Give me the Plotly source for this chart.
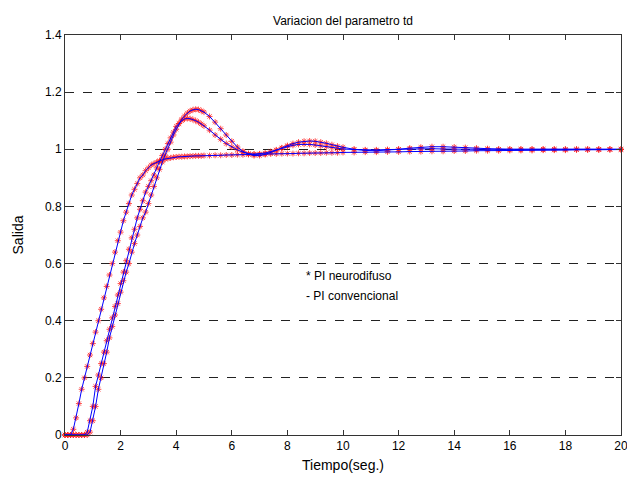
import plotly.graph_objects as go

# Time grid (seconds)
t_early = [0.0, 0.1, 0.2, 0.3, 0.4, 0.5, 0.6, 0.7, 0.8, 0.9,
           1.0, 1.1, 1.2, 1.3, 1.4, 1.5, 1.6, 1.7, 1.8, 1.9,
           2.0, 2.1, 2.2, 2.3, 2.4, 2.5, 2.6, 2.7, 2.8, 2.9,
           3.0, 3.1, 3.2, 3.3, 3.4, 3.5, 3.6, 3.7, 3.8, 3.9,
           4.0, 4.1, 4.2, 4.3, 4.4, 4.5, 4.6, 4.7, 4.8, 4.9]
t_mid = [5.0, 5.2, 5.4, 5.6, 5.8, 6.0, 6.2, 6.4, 6.6, 6.8,
         7.0, 7.2, 7.4, 7.6, 7.8, 8.0, 8.2, 8.4, 8.6, 8.8,
         9.0, 9.2, 9.4, 9.6, 9.8]
t_late = [10.0, 10.4, 10.8, 11.2, 11.6, 12.0, 12.4, 12.8, 13.2, 13.6,
          14.0, 14.4, 14.8, 15.2, 15.6, 16.0, 16.4, 16.8, 17.2, 17.6,
          18.0, 18.4, 18.8, 19.2, 19.6, 20.0]
tiempo = t_early + t_mid + t_late

# Response with small td (fast, no overshoot)
salida_td1 = [0, 0, 0, 0.02, 0.06, 0.11, 0.16, 0.2, 0.24, 0.28,
              0.32, 0.36, 0.40, 0.44, 0.48, 0.52, 0.56, 0.60, 0.64, 0.68,
              0.71, 0.75, 0.78, 0.81, 0.84, 0.86, 0.88, 0.90, 0.91, 0.925,
              0.935, 0.945, 0.95, 0.955, 0.96, 0.963, 0.966, 0.968, 0.97, 0.972,
              0.973, 0.974, 0.974, 0.975, 0.975, 0.976, 0.976, 0.977, 0.977, 0.977,
              0.978, 0.978, 0.979, 0.979, 0.98, 0.98, 0.981, 0.981, 0.982, 0.982,
              0.983, 0.983, 0.984, 0.984, 0.985, 0.985, 0.985, 0.986, 0.986, 0.987,
              0.987, 0.987, 0.988, 0.988, 0.988,
              0.989, 0.989, 0.99, 0.99, 0.991, 0.991, 0.992, 0.992, 0.993, 0.993,
              0.994, 0.994, 0.995, 0.995, 0.995, 0.996, 0.996, 0.996, 0.997, 0.997,
              0.997, 0.998, 0.998, 0.998, 0.999, 0.999]

# Response with medium td
salida_td2 = [0, 0, 0, 0, 0, 0, 0, 0, 0.01, 0.05,
              0.1, 0.17, 0.21, 0.25, 0.29, 0.33, 0.37, 0.41, 0.45, 0.49,
              0.53, 0.57, 0.61, 0.65, 0.69, 0.72, 0.76, 0.79, 0.82, 0.85,
              0.87, 0.89, 0.91, 0.935, 0.957, 0.978, 1.0, 1.02, 1.04, 1.06,
              1.08, 1.09, 1.10, 1.106, 1.108, 1.107, 1.104, 1.10, 1.095, 1.089,
              1.082, 1.067, 1.05, 1.035, 1.02, 1.008, 0.998, 0.99, 0.985, 0.983,
              0.984, 0.987, 0.992, 0.998, 1.004, 1.01, 1.014, 1.017, 1.018, 1.017,
              1.015, 1.012, 1.009, 1.006, 1.003,
              1.001, 0.999, 0.998, 0.998, 0.999, 1.0, 1.001, 1.002, 1.002, 1.001,
              1.0, 1.0, 1.0, 1.0, 1.0, 1.0, 1.0, 1.0, 1.0, 1.0,
              1.0, 1.0, 1.0, 1.0, 1.0, 1.0]

# Response with large td
salida_td3 = [0, 0, 0, 0, 0, 0, 0, 0, 0, 0.01,
              0.05, 0.1, 0.16, 0.2, 0.25, 0.29, 0.34, 0.38, 0.42, 0.46,
              0.5, 0.54, 0.57, 0.6, 0.64, 0.67, 0.7, 0.73, 0.76, 0.78,
              0.81, 0.84, 0.87, 0.9, 0.93, 0.955, 0.98, 1.0, 1.025, 1.05,
              1.07, 1.09, 1.105, 1.117, 1.127, 1.134, 1.138, 1.14, 1.139, 1.135,
              1.13, 1.115, 1.095, 1.072, 1.05, 1.028, 1.008, 0.993, 0.983, 0.978,
              0.978, 0.982, 0.988, 0.996, 1.005, 1.013, 1.02, 1.025, 1.028, 1.029,
              1.028, 1.025, 1.021, 1.016, 1.011,
              1.007, 1.0, 0.996, 0.995, 0.997, 1.0, 1.004, 1.007, 1.009, 1.009,
              1.008, 1.006, 1.004, 1.002, 1.0, 1.0, 1.0, 1.0, 1.0, 1.0,
              1.0, 1.0, 1.0, 1.0, 1.0, 1.0]

series = [salida_td1, salida_td2, salida_td3]

fig = go.Figure()

# PI neurodifuso: red asterisk markers
for s in series:
    fig.add_trace(go.Scatter(
        x=tiempo, y=s, mode="markers",
        marker=dict(symbol="asterisk-open", size=5, color="rgba(255,30,30,0.8)",
                    line=dict(width=1, color="rgba(255,30,30,0.8)")),
        showlegend=False, hoverinfo="skip", cliponaxis=False))

# PI convencional: blue lines
for s in series:
    fig.add_trace(go.Scatter(
        x=tiempo, y=s, mode="lines",
        line=dict(color="blue", width=1),
        showlegend=False))

font = dict(family="Liberation Sans, Arial, sans-serif", size=12, color="#000")

fig.add_annotation(x=8.6, y=0.555, xref="x", yref="y", text="* PI neurodifuso",
                   showarrow=False, xanchor="left", yanchor="middle", font=font)
fig.add_annotation(x=8.6, y=0.485, xref="x", yref="y", text="- PI convencional",
                   showarrow=False, xanchor="left", yanchor="middle", font=font)

fig.update_layout(
    width=627, height=478,
    margin=dict(l=65, r=6, t=35, b=43, autoexpand=False),
    paper_bgcolor="white", plot_bgcolor="white",
    font=font,
    title=dict(text="Variacion del parametro td", x=0.5, xref="paper",
               xanchor="center", y=1 - 21 / 478, yref="container", yanchor="middle",
               automargin=False,
               font=dict(family="Liberation Sans, Arial, sans-serif", size=12)),
    xaxis=dict(range=[0, 20], tickmode="array",
               tickvals=[0, 2, 4, 6, 8, 10, 12, 14, 16, 18, 20],
               ticks="inside", ticklen=5, tickcolor="#333",
               showline=True, linecolor="#333", linewidth=1, mirror="ticks",
               showgrid=False, zeroline=False, automargin=False,
               ticklabeloverflow="allow",
               title=dict(text="Tiempo(seg.)", standoff=7)),
    yaxis=dict(range=[0, 1.4], tickmode="array",
               tickvals=[0, 0.2, 0.4, 0.6, 0.8, 1, 1.2, 1.4],
               ticktext=["0", "0.2", "0.4", "0.6", "0.8", "1", "1.2", "1.4"],
               ticks="inside", ticklen=5, tickcolor="#333",
               showline=True, linecolor="#333", linewidth=1, mirror="ticks",
               showgrid=True, gridcolor="#222", griddash="dash", gridwidth=1,
               zeroline=False, automargin=False,
               title=dict(text="Salida", standoff=18)),
)

# Remove the default page margin so the figure sits at the window's top-left corner.
fig.write_html("out.html",
               config={"displayModeBar": False},
               post_script="document.body.style.margin='0';"
                           "document.body.style.overflow='hidden';")
